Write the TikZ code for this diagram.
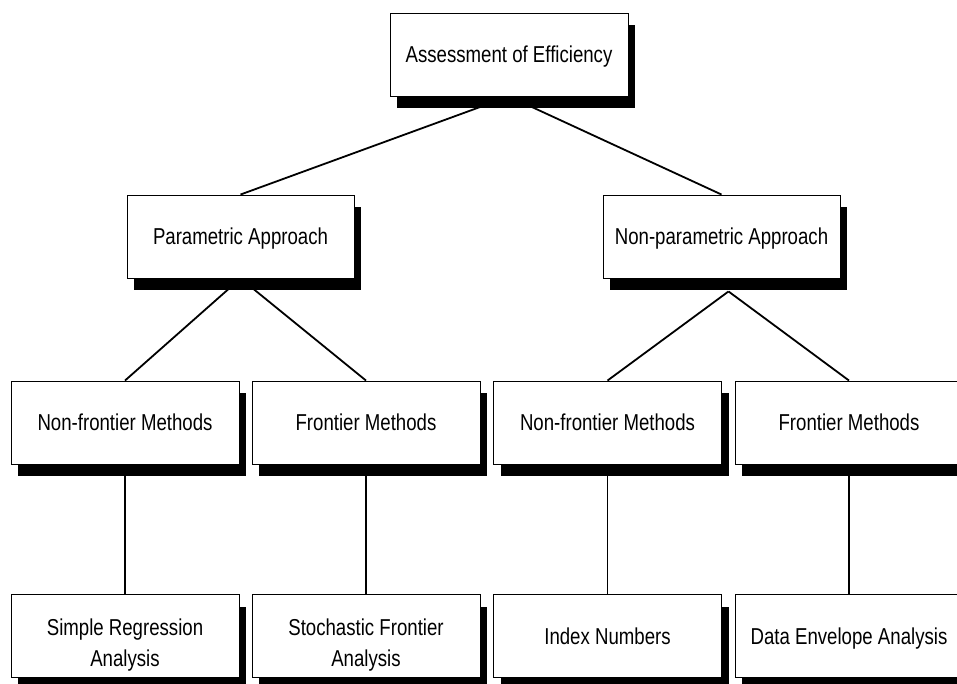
\documentclass[tikz,border=0pt]{standalone}
\usepackage{fontspec}
\setmainfont{Liberation Sans}[FakeStretch=0.81]
\usepackage{tikz}
\usetikzlibrary{shadows,backgrounds}

\newcommand{\lowerby}{\rule{0pt}{30pt}}

\begin{document}
\begin{tikzpicture}[
    x=1pt, y=-1pt,
    method/.style={rectangle, draw, fill=white, line width=0.9pt, minimum width=228pt, minimum height=83pt, inner sep=2pt, align=center, text depth=-5pt, font=\fontsize{23}{31}\selectfont, drop shadow={shadow xshift=7pt, shadow yshift=-12pt, fill=black, opacity=1}},
    twoline/.style={text depth=0pt},
    link/.style={line width=1.8pt}
]
\useasboundingbox (0,0) rectangle (957,684);
\clip (0,0) rectangle (957,684);

\node[method, minimum width=238pt] (assess) at (509,54.5) {Assessment of Efficiency};

\node[method, minimum width=227pt] (param) at (240.5,236.5) {Parametric Approach};
\node[method, minimum width=237pt] (nonparam) at (721.5,236.5) {Non-parametric Approach};

\node[method] (pnonfront) at (125,422.5) {Non-frontier Methods};
\node[method] (pfront) at (366,422.5) {Frontier Methods};
\node[method] (nnonfront) at (607.5,422.5) {Non-frontier Methods};
\node[method] (nfront) at (849,422.5) {Frontier Methods};

\node[method, twoline] (regress) at (125,636) {\lowerby Simple Regression\\Analysis};
\node[method, twoline] (stochastic) at (366,636) {\lowerby Stochastic Frontier\\Analysis};
\node[method] (indexnum) at (607.5,636) {Index Numbers};
\node[method] (dea) at (849,636) {Data Envelope Analysis};

\begin{scope}[on background layer]
\draw[link] (assess.south) -- (param.north);
\draw[link] (assess.south) -- (nonparam.north);
\draw[link] (param.south) -- (pnonfront.north);
\draw[link] (param.south) -- (pfront.north);
\draw[link] ([shift={(7,13)}]nonparam.south) -- (nnonfront.north);
\draw[link] ([shift={(7,13)}]nonparam.south) -- (nfront.north);
\draw[link] (pnonfront.south) -- (regress.north);
\draw[link] (pfront.south) -- (stochastic.north);
\draw[link] (nnonfront.south) -- (indexnum.north);
\draw[link] (nfront.south) -- (dea.north);
\end{scope}

\end{tikzpicture}
\end{document}
